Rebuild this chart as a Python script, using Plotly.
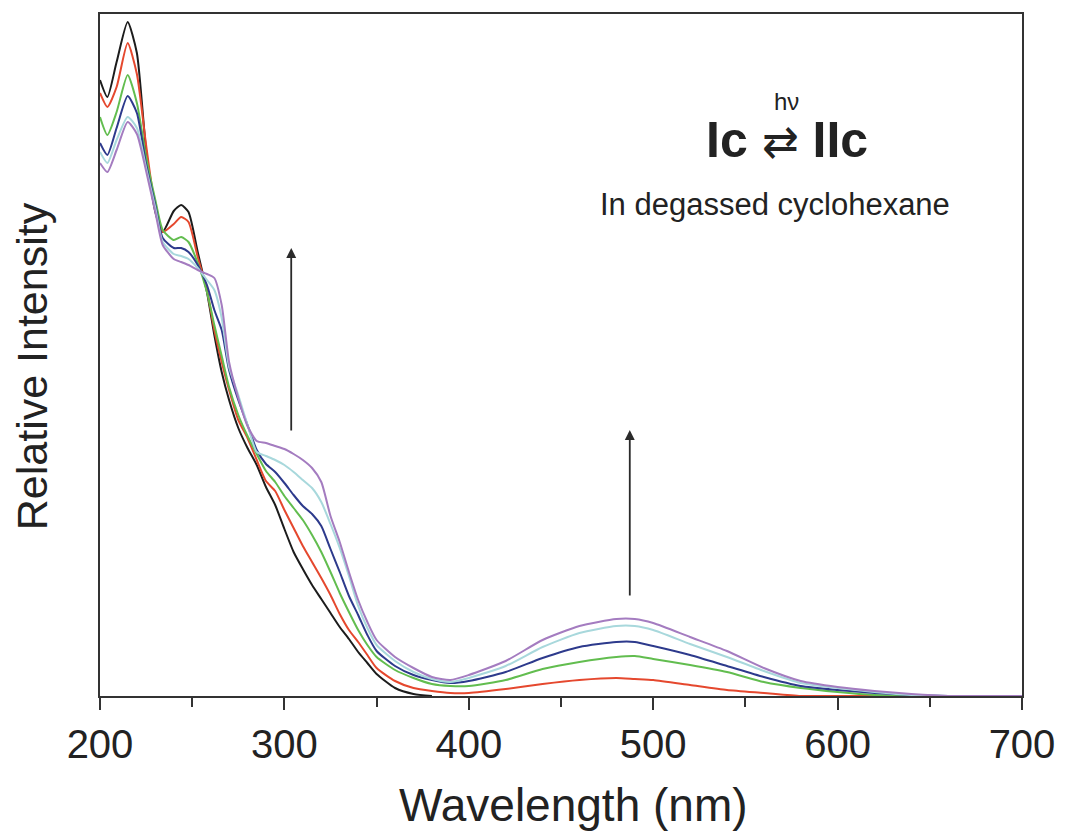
import plotly.graph_objects as go

# Absorption spectra of Ic in degassed cyclohexane during irradiation
wavelength = [200, 204, 209, 215, 220, 225, 230, 234, 240, 244, 248, 253, 258, 262,
              266, 270, 275, 280, 285, 290, 295, 300, 305, 310, 315, 320, 325, 330,
              335, 340, 345, 350, 360, 370, 380, 390, 400, 420, 440, 460, 480, 490,
              500, 520, 540, 560, 580, 600, 620, 640, 660, 680, 700]

spec_black = [61.6, 59.9, 63.4, 67.4, 64.3, 54.6, 48.4, 46.4, 48.5, 49.1, 48.4, 44.4, 40.4, 36.1,
              32.4, 29.6, 26.8, 24.8, 23.1, 20.9, 19.1, 16.7, 14.4, 12.7, 11.1, 9.7, 8.3, 6.9,
              5.7, 4.4, 3.3, 2.2, 0.8, 0.2, 0.0] + [None] * 18

spec_red = [60.3, 58.9, 60.9, 65.3, 62.2, 55.1, 48.8, 46.4, 47.2, 47.9, 47.4, 43.9, 40.6, 36.6,
            33.4, 30.6, 27.6, 25.8, 23.6, 21.5, 20.5, 18.6, 16.8, 15.0, 13.4, 11.8, 10.1, 8.2,
            6.6, 5.4, 4.1, 2.8, 1.5, 0.8, 0.5, 0.3, 0.3, 0.7, 1.2, 1.6, 1.8, 1.7,
            1.6, 1.1, 0.6, 0.3, 0.0, 0.0, 0.0] + [None] * 4

spec_green = [57.9, 56.1, 58.4, 62.1, 59.3, 53.9, 49.6, 46.6, 45.6, 45.9, 45.4, 43.3, 40.4, 37.1,
              34.0, 30.9, 28.1, 26.0, 24.2, 22.5, 21.4, 20.0, 18.8, 17.6, 16.1, 14.4, 12.4, 10.3,
              8.4, 6.6, 5.1, 3.9, 2.6, 1.8, 1.2, 1.0, 1.0, 1.6, 2.7, 3.4, 3.9, 4.0,
              3.7, 3.1, 2.4, 1.4, 0.8, 0.4, 0.1, 0.0, 0.0, None, None]

spec_blue = [55.3, 54.1, 56.8, 60.0, 58.3, 53.2, 49.1, 45.8, 44.8, 44.8, 44.4, 43.1, 41.1, 38.6,
             36.6, 32.6, 29.6, 27.1, 24.6, 23.2, 22.4, 21.3, 20.1, 19.0, 18.2, 17.0, 14.7, 12.4,
             10.0, 8.1, 6.1, 4.5, 3.0, 2.1, 1.6, 1.3, 1.5, 2.4, 3.8, 4.9, 5.4, 5.4,
             5.0, 4.1, 3.0, 1.9, 1.0, 0.6, 0.3, 0.1, 0.0, 0.0, None]

spec_cyan = [54.4, 53.3, 55.6, 57.9, 56.8, 52.8, 48.8, 45.4, 44.2, 44.0, 43.7, 42.8, 41.6, 40.6,
             37.8, 32.9, 30.1, 27.1, 24.4, 24.0, 23.6, 23.1, 22.4, 21.6, 20.8, 19.4, 17.2, 14.8,
             12.0, 9.0, 6.8, 5.1, 3.5, 2.4, 1.7, 1.4, 1.8, 3.0, 4.9, 6.3, 7.0, 7.0,
             6.6, 5.2, 3.9, 2.5, 1.3, 0.8, 0.4, 0.1, 0.0, 0.0, None]

spec_purple = [53.3, 52.4, 54.6, 57.4, 56.2, 52.5, 48.4, 45.1, 43.7, 43.4, 43.1, 42.6, 42.2, 41.8,
               39.1, 33.4, 29.8, 27.0, 25.5, 25.3, 25.0, 24.7, 24.2, 23.6, 22.8, 21.4, 18.0, 15.4,
               12.4, 9.6, 7.4, 5.6, 3.9, 2.8, 1.9, 1.6, 2.1, 3.5, 5.6, 7.0, 7.7, 7.7,
               7.3, 5.9, 4.5, 2.8, 1.5, 0.9, 0.5, 0.2, 0.0, 0.0, 0.0]

series = [
    (spec_black, "#1c1c1c"),
    (spec_red, "#e5482e"),
    (spec_green, "#62bd4f"),
    (spec_blue, "#2d3a8c"),
    (spec_cyan, "#a8d8dc"),
    (spec_purple, "#a47cc0"),
]

# growth arrows: (wavelength, start intensity, end intensity)
arrow_uv = (303.7, 26.4, 44.8)
arrow_vis = (487.3, 9.9, 26.6)

FONT = "Liberation Sans, Arial, sans-serif"
INK = "#222"

fig = go.Figure()
for values, color in series:
    fig.add_trace(go.Scatter(
        x=wavelength, y=values, mode="lines",
        line=dict(color=color, width=2, shape="spline", smoothing=0.6),
        showlegend=False, hoverinfo="skip",
    ))

for wl, y0, y1 in (arrow_uv, arrow_vis):
    fig.add_annotation(
        x=wl, y=y1, ax=wl, ay=y0, xref="x", yref="y", axref="x", ayref="y",
        text="", showarrow=True, arrowhead=2, arrowsize=1.1, arrowwidth=1.8,
        arrowcolor="#2a2a2a",
    )


def label(x, y, text, size, angle=0):
    fig.add_annotation(x=x, y=y, xref="paper", yref="paper", text=text,
                       xanchor="center", yanchor="middle", textangle=angle,
                       showarrow=False, font=dict(family=FONT, size=size, color=INK))


label(0.745, 0.872, "hν", 24)
label(0.745, 0.815, "<b>Ic</b> <span style='font-size:44px'>⇄</span> <b>IIc</b>", 50)
label(0.732, 0.72, "In degassed cyclohexane", 31)
label(0.514, -0.160, "Wavelength (nm)", 46)
label(-0.0734, 0.484, "Relative Intensity", 43, angle=-90)

fig.update_layout(
    width=1067, height=832,
    margin=dict(l=100, r=41, t=14, b=136),
    paper_bgcolor="white", plot_bgcolor="white",
    font=dict(family=FONT, color=INK),
    xaxis=dict(
        range=[200, 700], tickvals=[200, 300, 400, 500, 600, 700],
        ticks="outside", ticklen=12, tickwidth=1.5, tickcolor="#333",
        minor=dict(dtick=50, ticks="outside", ticklen=9, tickwidth=1.5, tickcolor="#333"),
        showline=True, linecolor="#333", linewidth=1.5, mirror=True,
        showgrid=False, zeroline=False,
        tickfont=dict(size=40, family=FONT, color=INK),
    ),
    yaxis=dict(
        range=[0, 68.2], showticklabels=False, ticks="",
        showline=True, linecolor="#333", linewidth=1.5, mirror=True,
        showgrid=False, zeroline=False,
    ),
)

fig.write_html("out.html")
